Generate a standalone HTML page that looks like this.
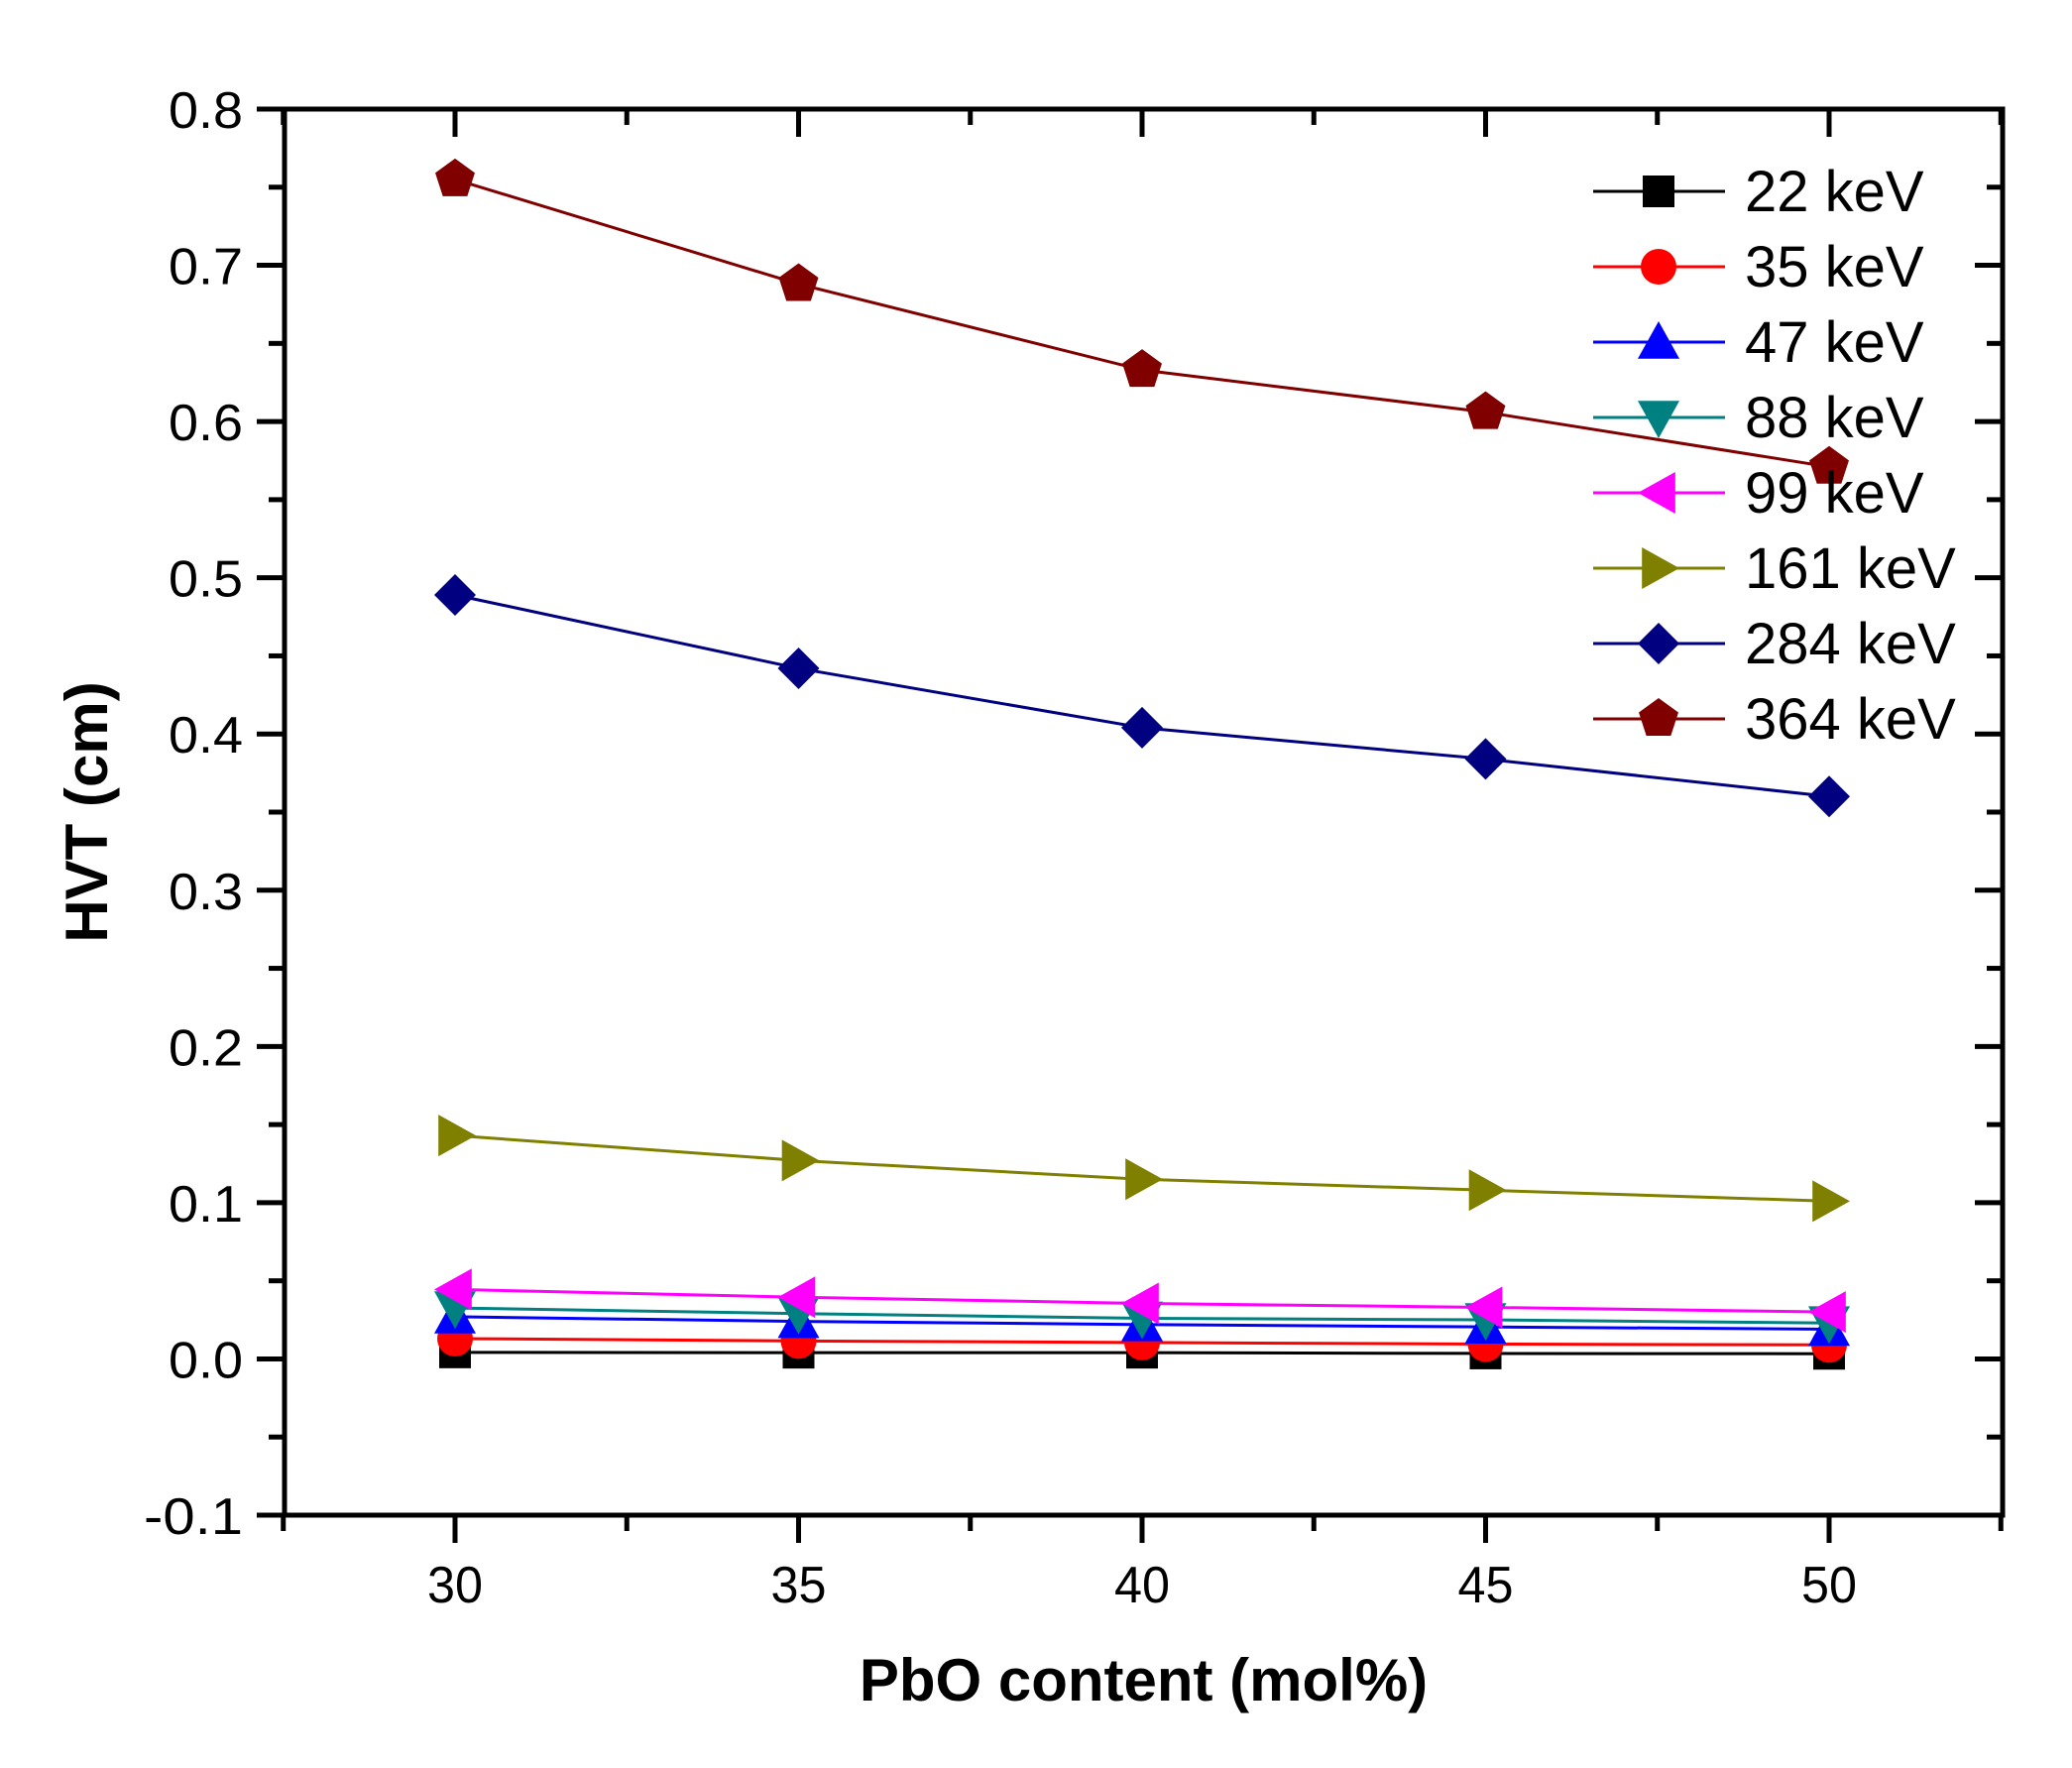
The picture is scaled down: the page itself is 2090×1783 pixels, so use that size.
<!DOCTYPE html>
<html><head><meta charset="utf-8"><style>
html,body{margin:0;padding:0;background:#fff;}
svg{display:block;font-family:"Liberation Sans",Arial,sans-serif;}
</style></head><body>
<svg id="chart" width="2090" height="1783" viewBox="0 0 2090 1783" xmlns="http://www.w3.org/2000/svg">
<g id="axes"></g><g id="series"></g><g id="legend"></g>
</svg>
<script>
const categories = [30, 35, 40, 45, 50];
const seriesNames = ["22 keV","35 keV","47 keV","88 keV","99 keV","161 keV","284 keV","364 keV"];
const s22 = [0.0042, 0.0040, 0.0040, 0.0035, 0.0033];
const s35 = [0.013, 0.0115, 0.0105, 0.0095, 0.009];
const s47 = [0.027, 0.024, 0.022, 0.0205, 0.019];
const s88 = [0.0326, 0.029, 0.026, 0.025, 0.023];
const s99 = [0.0445, 0.0395, 0.0355, 0.033, 0.030];
const s161 = [0.143, 0.127, 0.115, 0.108, 0.101];
const s284 = [0.489, 0.442, 0.404, 0.384, 0.360];
const s364 = [0.755, 0.688, 0.633, 0.606, 0.571];
const yTicks = ["-0.1","0.0","0.1","0.2","0.3","0.4","0.5","0.6","0.7","0.8"];
const xTicks = ["30","35","40","45","50"];

const NS="http://www.w3.org/2000/svg";
const L=287,R=2020,T=110,B=1528;
const X0=459,X1=1845;
function xs(v){return X0+(v-30)*(X1-X0)/20;}
function ys(v){return B-(v+0.1)*(B-T)/0.9;}
function mk(tag,attrs,parent){const e=document.createElementNS(NS,tag);for(const k in attrs)e.setAttribute(k,attrs[k]);parent.appendChild(e);return e;}
const axes=document.getElementById('axes'),ser=document.getElementById('series'),leg=document.getElementById('legend');

let fr=mk('rect',{x:L,y:T,width:R-L,height:B-T,fill:'none',stroke:'#000','stroke-width':5},axes);

for(let i=0;i<yTicks.length;i++){
  const v=parseFloat(yTicks[i]);const y=ys(v);
  mk('line',{x1:L-28,x2:L,y1:y,y2:y,stroke:'#000','stroke-width':5},axes);
  mk('line',{x1:R-28,x2:R,y1:y,y2:y,stroke:'#000','stroke-width':5},axes);
  const t=mk('text',{x:L-42,y:y+19,'text-anchor':'end','font-size':52,'textLength':yTicks[i].length*25,'lengthAdjust':'spacingAndGlyphs'},axes);t.textContent=yTicks[i];
  
  
  if(i<yTicks.length-1){const ym=ys(v+0.05);
    mk('line',{x1:L-16,x2:L,y1:ym,y2:ym,stroke:'#000','stroke-width':5},axes);
    mk('line',{x1:R-16,x2:R,y1:ym,y2:ym,stroke:'#000','stroke-width':5},axes);}
}
for(let v=27.5;v<=52.6;v+=2.5){
  const x=xs(v);const major=(v%5===0);
  mk('line',{x1:x,x2:x,y1:B,y2:B+(major?28:16),stroke:'#000','stroke-width':5},axes);
  mk('line',{x1:x,x2:x,y1:T,y2:T+(major?28:16),stroke:'#000','stroke-width':5},axes);
}
for(let i=0;i<xTicks.length;i++){
  const t=mk('text',{x:xs(parseFloat(xTicks[i])),y:1616,'text-anchor':'middle','font-size':52,'textLength':56,'lengthAdjust':'spacingAndGlyphs'},axes);t.textContent=xTicks[i];
  
  
}
let xt=mk('text',{x:(L+R)/2,y:1715,'text-anchor':'middle','font-size':60,'font-weight':'bold'},axes);xt.textContent='PbO content (mol%)';

let yt=mk('text',{x:0,y:0,'text-anchor':'middle','font-size':60,'font-weight':'bold',transform:'translate(108,'+((T+B)/2)+') rotate(-90)'},axes);yt.textContent='HVT (cm)';


const colors=['#000000','#ff0000','#0000ff','#008080','#ff00ff','#808000','#000080','#800000'];
const shapes=['square','circle','up','down','left','right','diamond','pentagon'];
const data=[s22,s35,s47,s88,s99,s161,s284,s364];
function marker(shape,x,y,c,g){
  const r=21;let p;
  if(shape==='square')p=mk('rect',{x:x-16,y:y-16,width:32,height:32,fill:c},g);
  else if(shape==='circle')p=mk('circle',{cx:x,cy:y,r:18,fill:c},g);
  else{let pts;
    if(shape==='up')pts=[[0,-r],[r,r*0.8],[-r,r*0.8]];
    else if(shape==='down')pts=[[0,r],[r,-r*0.8],[-r,-r*0.8]];
    else if(shape==='left')pts=[[-r,0],[r*0.8,-r],[r*0.8,r]];
    else if(shape==='right')pts=[[r,0],[-r*0.8,-r],[-r*0.8,r]];
    else if(shape==='diamond')pts=[[0,-r],[r,0],[0,r],[-r,0]];
    else {pts=[];for(let k=0;k<5;k++){const a=-Math.PI/2+k*2*Math.PI/5;pts.push([r*Math.cos(a),r*Math.sin(a)]);}}
    p=mk('polygon',{points:pts.map(q=>(x+q[0])+','+(y+q[1])).join(' '),fill:c},g);}
  return p;
}
for(let s=0;s<data.length;s++){
  const g=mk('g',{},ser);
  
  
  const pts=categories.map((c,i)=>xs(c)+','+ys(data[s][i])).join(' ');
  mk('polyline',{points:pts,fill:'none',stroke:colors[s],'stroke-width':3},g);
  for(let i=0;i<categories.length;i++){
    const m=marker(shapes[s],xs(categories[i]),ys(data[s][i]),colors[s],g);
    
    
  }
  const ly=193+s*76;
  const lg=mk('g',{},leg);
  
  
  mk('line',{x1:1607,x2:1740,y1:ly,y2:ly,stroke:colors[s],'stroke-width':3},lg);
  marker(shapes[s],1673,ly,colors[s],lg);
  const t=mk('text',{x:1760,y:ly+20,'font-size':58},lg);t.textContent=seriesNames[s];
}
</script>
</body></html>
